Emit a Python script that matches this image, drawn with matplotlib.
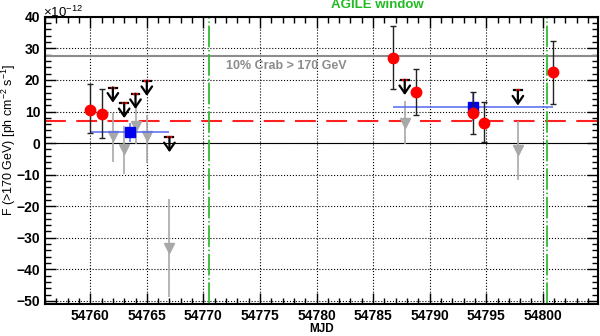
import numpy as np
import matplotlib.pyplot as plt
from matplotlib.ticker import MultipleLocator
from matplotlib.transforms import blended_transform_factory

# detections (red circles), units of 1e-12 ph cm^-2 s^-1
det_mjd = [54760.0, 54761.0, 54786.8, 54788.8, 54793.8, 54794.8, 54800.9]
det_flux = [10.6, 9.3, 26.9, 16.1, 9.5, 6.5, 22.5]
det_lo = [3.2, 1.6, 17.1, 8.9, 3.0, 0.2, 12.4]
det_hi = [18.7, 17.1, 37.0, 23.4, 16.2, 13.0, 32.3]

# upper limits (black arrows)
ul_mjd = [54762.0, 54763.0, 54764.0, 54765.0, 54767.0, 54787.8, 54797.8]
ul_flux = [17.6, 12.7, 15.6, 19.7, 1.9, 20.0, 16.7]

# low-significance points (grey triangles)
low_mjd = [54762.0, 54763.0, 54764.0, 54765.0, 54767.0, 54787.8, 54797.8]
low_flux = [2.1, -1.9, 5.3, 2.3, -33.1, 6.5, -2.3]
low_lo = [-6.0, -9.8, -0.3, -6.3, -48.9, -0.2, -11.7]
low_hi = [9.5, 5.3, 11.0, 9.0, -17.7, 13.2, 6.9]

# period averages (blue squares)
avg_mjd = [54763.5, 54793.8]
avg_flux = [3.4, 11.5]
avg_xlo = [54760.0, 54786.8]
avg_xhi = [54767.0, 54800.9]
avg_err = [3.0, 4.5]

crab_level = 27.5
mean_level = 7.0
agile_window = [54770.5, 54800.4]

plt.rcParams['font.family'] = ['Liberation Sans', 'DejaVu Sans']
plt.rcParams['mathtext.fontset'] = 'custom'
plt.rcParams['mathtext.rm'] = 'Liberation Sans'
plt.rcParams['mathtext.default'] = 'rm'

fig = plt.figure(figsize=(6, 3.36), dpi=100)
ax = fig.add_axes([0.075, 0.095, 0.922, 0.855])

ax.set_xlim(54756, 54804.9)
ax.set_ylim(-51, 40)

ax.grid(True, which='major', color='black', linestyle=':', linewidth=0.8)
ax.axhline(0, color='black', linewidth=0.8)
ax.axhline(crab_level, color='#8c8c8c', linewidth=1.5)
ax.axhline(mean_level, color='#ff2020', linewidth=1.5, dashes=(10, 5))
for x in agile_window:
    ax.axvline(x, color='#33bb33', linewidth=1.3, dashes=(12, 1.5, 0.8, 1.5))

# grey triangles
low_mjd_a = np.array(low_mjd)
low_flux_a = np.array(low_flux)
ax.errorbar(low_mjd_a, low_flux_a,
            yerr=[low_flux_a - np.array(low_lo), np.array(low_hi) - low_flux_a],
            fmt='v', color='#a8a8a8', ms=7, elinewidth=1.2, capsize=0)

# blue squares
avg_x = np.array(avg_mjd)
ax.errorbar(avg_x, avg_flux,
            xerr=[avg_x - np.array(avg_xlo), np.array(avg_xhi) - avg_x],
            yerr=avg_err, fmt='s', color='#0000ee', ecolor='#5568f0',
            ms=6.5, elinewidth=1.1, capsize=0, zorder=4)

# red circles
det_f = np.array(det_flux)
ax.errorbar(det_mjd, det_f,
            yerr=[det_f - np.array(det_lo), np.array(det_hi) - det_f],
            fmt='o', color='red', ecolor='#222222', ms=7.5, elinewidth=1.0,
            capsize=2, capthick=1.0, zorder=5)

# upper limits
for x, y in zip(ul_mjd, ul_flux):
    ax.plot([x - 0.35, x + 0.35], [y, y], color='black', lw=1.6, zorder=5)
    ax.plot([x - 0.12, x + 0.12], [y, y], color='red', lw=1.6, zorder=6)
    ax.annotate('', xy=(x, y - 4.8), xytext=(x, y),
                arrowprops=dict(arrowstyle='->,head_length=0.55,head_width=0.38',
                                color='black', lw=1.6,
                                mutation_scale=10, shrinkA=0, shrinkB=0),
                zorder=6)

ax.text(54772.0, 24.5, '10% Crab > 170 GeV', color='#8c8c8c',
        fontsize=9, fontweight='bold', va='center')
trans = blended_transform_factory(ax.transData, ax.transAxes)
ax.text(54785.4, 1.02, 'AGILE window', color='#22bb22', fontsize=9.5,
        fontweight='bold', ha='center', va='bottom', transform=trans)
ax.text(-0.003, 0.99, r'$\times10^{-12}$', transform=ax.transAxes,
        fontsize=9.5, ha='left', va='bottom')

ax.xaxis.set_major_locator(MultipleLocator(5))
ax.xaxis.set_minor_locator(MultipleLocator(1))
ax.yaxis.set_major_locator(MultipleLocator(10))
ax.yaxis.set_minor_locator(MultipleLocator(2))
ax.ticklabel_format(axis='x', useOffset=False, style='plain')
ax.tick_params(which='both', direction='in', top=True, right=True,
               labelsize=10, width=1.0)
ax.tick_params(which='major', length=8)
ax.tick_params(which='minor', length=4)
for lab in ax.get_xticklabels() + ax.get_yticklabels():
    lab.set_fontweight('bold')
for s in ax.spines.values():
    s.set_linewidth(1.5)

ax.set_xlabel('MJD', fontsize=8.5, fontweight='bold')
ax.xaxis.set_label_coords(0.5, -0.066)
ax.set_ylabel(r'F (>170 GeV) [ph cm$^{-2}$ s$^{-1}$]', fontsize=9)
ax.yaxis.set_label_coords(-0.048, 0.57)

fig.savefig('out.png', dpi=100)
